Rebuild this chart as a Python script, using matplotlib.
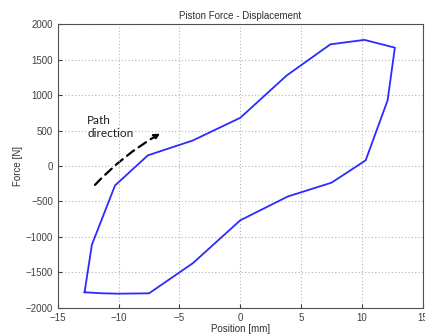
import matplotlib
matplotlib.use("Agg")
import matplotlib.pyplot as plt
from matplotlib.patches import FancyArrowPatch

# loop, traced counter-clockwise starting at the bottom-left corner
position = [-12.8, -12.2, -10.3, -7.6, -3.9, 0.0, 3.8, 7.4, 10.2, 12.7,
            12.1, 10.3, 7.5, 3.9, 0.0, -3.9, -7.5, -10.0, -11.3, -12.8]
force = [-1780, -1110, -275, 150, 360, 680, 1275, 1715, 1778, 1668,
         925, 80, -235, -430, -765, -1370, -1795, -1800, -1795, -1780]

arrow_start = (-12.1, -295)
arrow_end = (-6.4, 475)

plt.rcParams['font.family'] = ['Liberation Sans', 'DejaVu Sans']

fig = plt.figure(figsize=(4.25, 3.35), dpi=100)
ax = fig.add_axes([0.136, 0.081, 0.859, 0.847])

ax.plot(position, force, color='#2b2bff', lw=1.3)

ax.set_xlim(-15, 15)
ax.set_ylim(-2000, 2000)
ax.set_xticks(range(-15, 16, 5))
ax.set_yticks(range(-2000, 2001, 500))
ax.grid(True, linestyle=(0, (1, 2)), color='#b4b4b4', lw=0.8)
ax.tick_params(direction='in', labelsize=7, colors='#404040', length=3)
for s in ax.spines.values():
    s.set_color('#505050')
    s.set_linewidth(0.8)

ax.set_title('Piston Force - Displacement', fontsize=7, color='#303030', pad=4)
ax.set_xlabel('Position [mm]', fontsize=7, color='#303030', labelpad=1)
ax.set_ylabel('Force [N]', fontsize=7, color='#303030', labelpad=2)

arr = FancyArrowPatch(arrow_start, arrow_end, connectionstyle='arc3,rad=-0.08',
                      arrowstyle='-|>', mutation_scale=8, color='black',
                      lw=1.6, linestyle=(0, (4, 2.5)))
ax.add_patch(arr)
ax.text(-12.6, 380, 'Path\ndirection', fontsize=8.5, family=['Lato', 'DejaVu Sans'],
        color='#202020', linespacing=1.2, va='bottom')

fig.savefig('out.png', dpi=100)
